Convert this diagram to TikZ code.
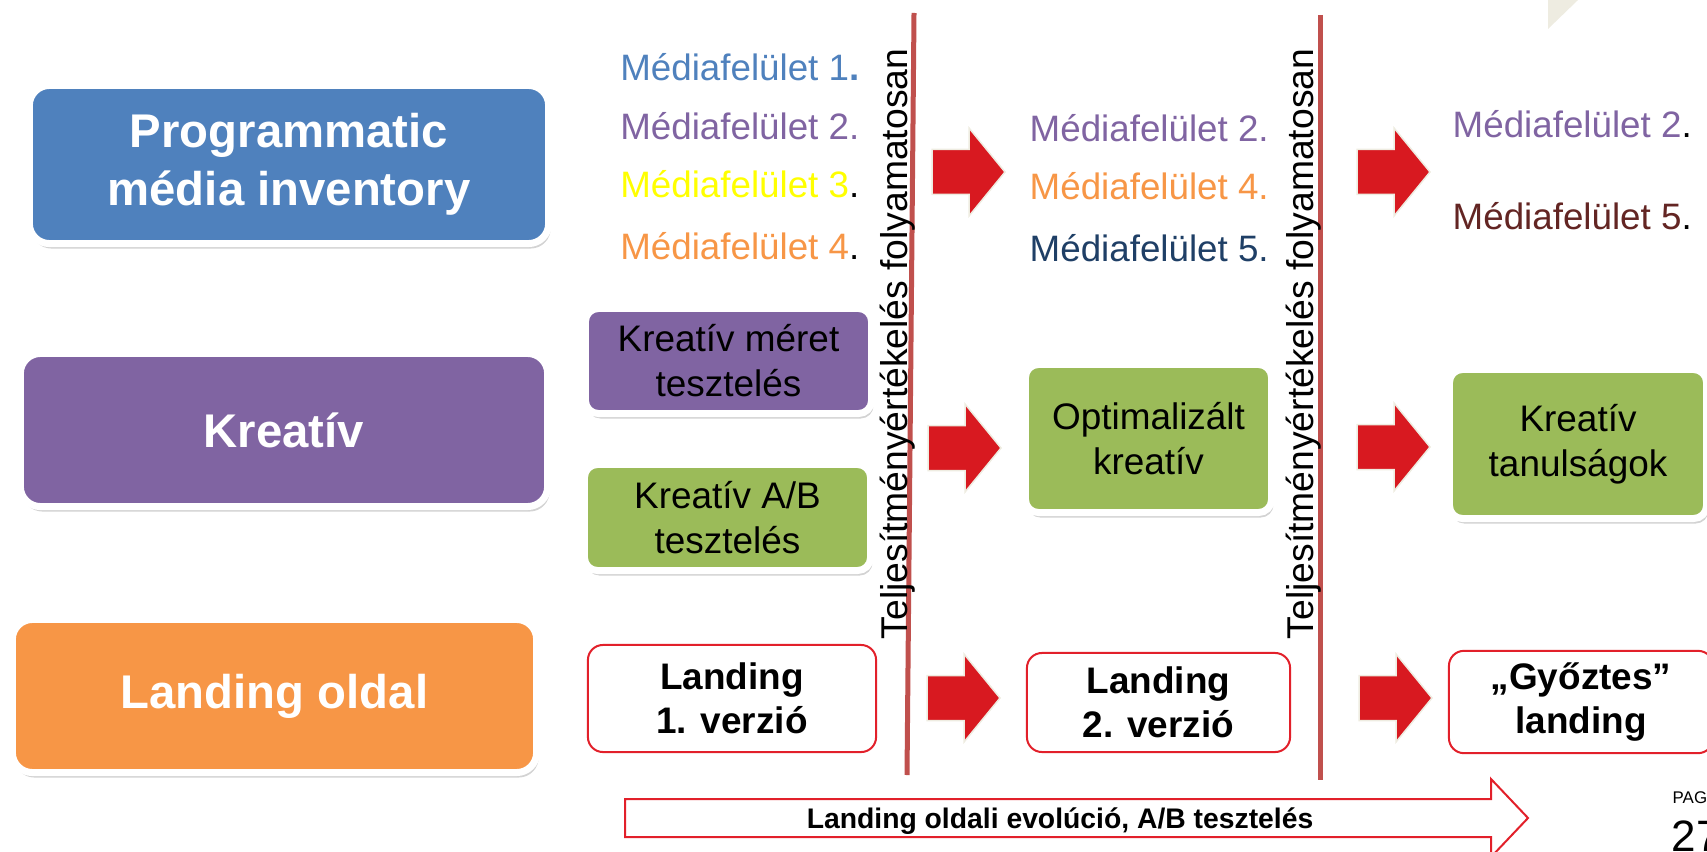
\documentclass[tikz,border=0pt]{standalone}
\usepackage{fontspec}
\setmainfont{Liberation Sans}
\usetikzlibrary{shadows}
\definecolor{kek}{HTML}{4F81BD}
\definecolor{lila}{HTML}{8064A2}
\definecolor{narancs}{HTML}{F79646}
\definecolor{zold}{HTML}{9BBB59}
\definecolor{sarga}{HTML}{FFFF00}
\definecolor{sotetkek}{HTML}{1F3F66}
\definecolor{barna}{HTML}{632523}
\definecolor{nyilpiros}{HTML}{D81920}
\definecolor{vonalpiros}{HTML}{C0504D}
\definecolor{keretpiros}{HTML}{E2202A}
\definecolor{bezs}{HTML}{EEECE1}
\tikzset{
	fobox/.style={
		rectangle,
		rounded corners=0.2cm,
		draw=white, line width=0.07cm,
		text=white,
		font=\fontsize{13.45}{16.5}\selectfont\bfseries,
		align=center,
		drop shadow={shadow xshift=0.02cm, shadow yshift=-0.05cm, opacity=0.35}},
	kisbox/.style={
		rectangle,
		rounded corners=0.13cm,
		draw=white, line width=0.07cm,
		font=\fontsize{10.5}{12.8}\selectfont,
		align=center,
		drop shadow={shadow xshift=0.02cm, shadow yshift=-0.05cm, opacity=0.35}},
	landbox/.style={
		rectangle,
		rounded corners=0.15cm,
		draw=keretpiros, line width=0.02cm,
		fill=white,
		font=\fontsize{10.5}{12.6}\selectfont\bfseries,
		align=center},
	media/.style={inner sep=0pt, font=\fontsize{10.45}{12}\selectfont},
	ertekel/.style={inner sep=0pt, rotate=90, anchor=base west, font=\fontsize{10.6}{12}\selectfont},
	vonal/.style={draw=vonalpiros, line width=0.05cm},
	blockarrow/.pic={
		\filldraw[fill=nyilpiros, draw=bezs, line width=0.015cm]
			(0,-22.5) -- (37,-22.5) -- (37,-44) -- (73,0) -- (37,44) -- (37,22.5) -- (0,22.5) -- cycle;},
}

\begin{document}
\begin{tikzpicture}[x=0.01cm, y=-0.01cm]
	\useasboundingbox (0,0) rectangle (1707,852);
	\clip (0,0) rectangle (1707,852);
	\fill[bezs] (1548,0) -- (1578,0) -- (1548,29) -- cycle;

	% bal oszlop
	\node[fobox, fill=kek, minimum width=5.19cm, minimum height=1.58cm] (prog) at (289,164.5) {Programmatic\\média inventory};
	\node[fobox, fill=lila, minimum width=5.27cm, minimum height=1.53cm] (kreativ) at (284,430) {Kreatív};
	\node[fobox, fill=narancs, minimum width=5.24cm, minimum height=1.53cm] (landing) at (274.5,696) {Landing oldal};

	% elso szakasz
	\node[media, anchor=base east] (m11) at (860,81) {\color{kek}Médiafelület 1\textbf{.}};
	\node[media, anchor=base east] (m12) at (860,140) {\color{lila}Médiafelület 2.};
	\node[media, anchor=base east] (m13) at (860,198) {{\color{sarga}Médiafelület 3}.};
	\node[media, anchor=base east] (m14) at (860,260) {{\color{narancs}Médiafelület 4}.};
	\node[kisbox, fill=lila, minimum width=2.86cm, minimum height=1.05cm] (meret) at (728.5,361) {Kreatív méret\\tesztelés};
	\node[kisbox, fill=zold, minimum width=2.86cm, minimum height=1.06cm] (abteszt) at (727.5,517.5) {Kreatív A/B\\tesztelés};
	\node[landbox, minimum width=2.88cm, minimum height=1.07cm] (land1) at (732,698.5) {Landing\\1. verzió};

	\draw[vonal] (914,13) -- (907,775);
	\node[ertekel] (ert1) at (907,640) {Teljesítményértékelés folyamatosan};

	\pic at (932,172) {blockarrow};
	\pic at (928,448) {blockarrow};
	\pic at (927,698) {blockarrow};

	% masodik szakasz
	\node[media, anchor=base west] (m22) at (1029,142) {\color{lila}Médiafelület 2.};
	\node[media, anchor=base west] (m24) at (1029,200) {\color{narancs}Médiafelület 4.};
	\node[media, anchor=base west] (m25) at (1029,262) {\color{sotetkek}Médiafelület 5.};
	\node[kisbox, fill=zold, minimum width=2.46cm, minimum height=1.48cm] (optim) at (1148.5,438.5) {Optimalizált\\kreatív};
	\node[landbox, minimum width=2.63cm, minimum height=0.99cm] (land2) at (1158.5,702.5) {Landing\\2. verzió};

	\draw[vonal] (1320,15) -- (1320,780);
	\node[ertekel] (ert2) at (1313,640) {Teljesítményértékelés folyamatosan};

	\pic at (1357,172) {blockarrow};
	\pic at (1357,447) {blockarrow};
	\pic at (1359,698) {blockarrow};

	% harmadik szakasz
	\node[media, anchor=base west] (m32) at (1452,138) {{\color{lila}Médiafelület 2}.};
	\node[media, anchor=base west] (m35) at (1452,230) {{\color{barna}Médiafelület 5}.};
	\node[kisbox, fill=zold, minimum width=2.57cm, minimum height=1.49cm] (tanulsag) at (1578,444) {Kreatív\\tanulságok};
	\node[landbox, minimum width=2.64cm, minimum height=1.00cm] (land3) at (1581,702) {„Győztes”\\landing};

	% also nyil
	\draw[draw=keretpiros, fill=white, line width=0.02cm] (625,799) -- (1491,799) -- (1491,779) -- (1528,818) -- (1491,857) -- (1491,837) -- (625,837) -- cycle;
	\node[inner sep=0pt, anchor=base, font=\fontsize{8.05}{10}\selectfont\bfseries] (evol) at (1060,828) {Landing oldali evolúció, A/B tesztelés};

	\node[inner sep=0pt, anchor=base west, font=\fontsize{4.8}{6}\selectfont] (pag) at (1672,803) {PAGE};
	\node[inner sep=0pt, anchor=base west, font=\fontsize{12.5}{14}\selectfont] (oldalszam) at (1671,851) {27};
\end{tikzpicture}
\end{document}
